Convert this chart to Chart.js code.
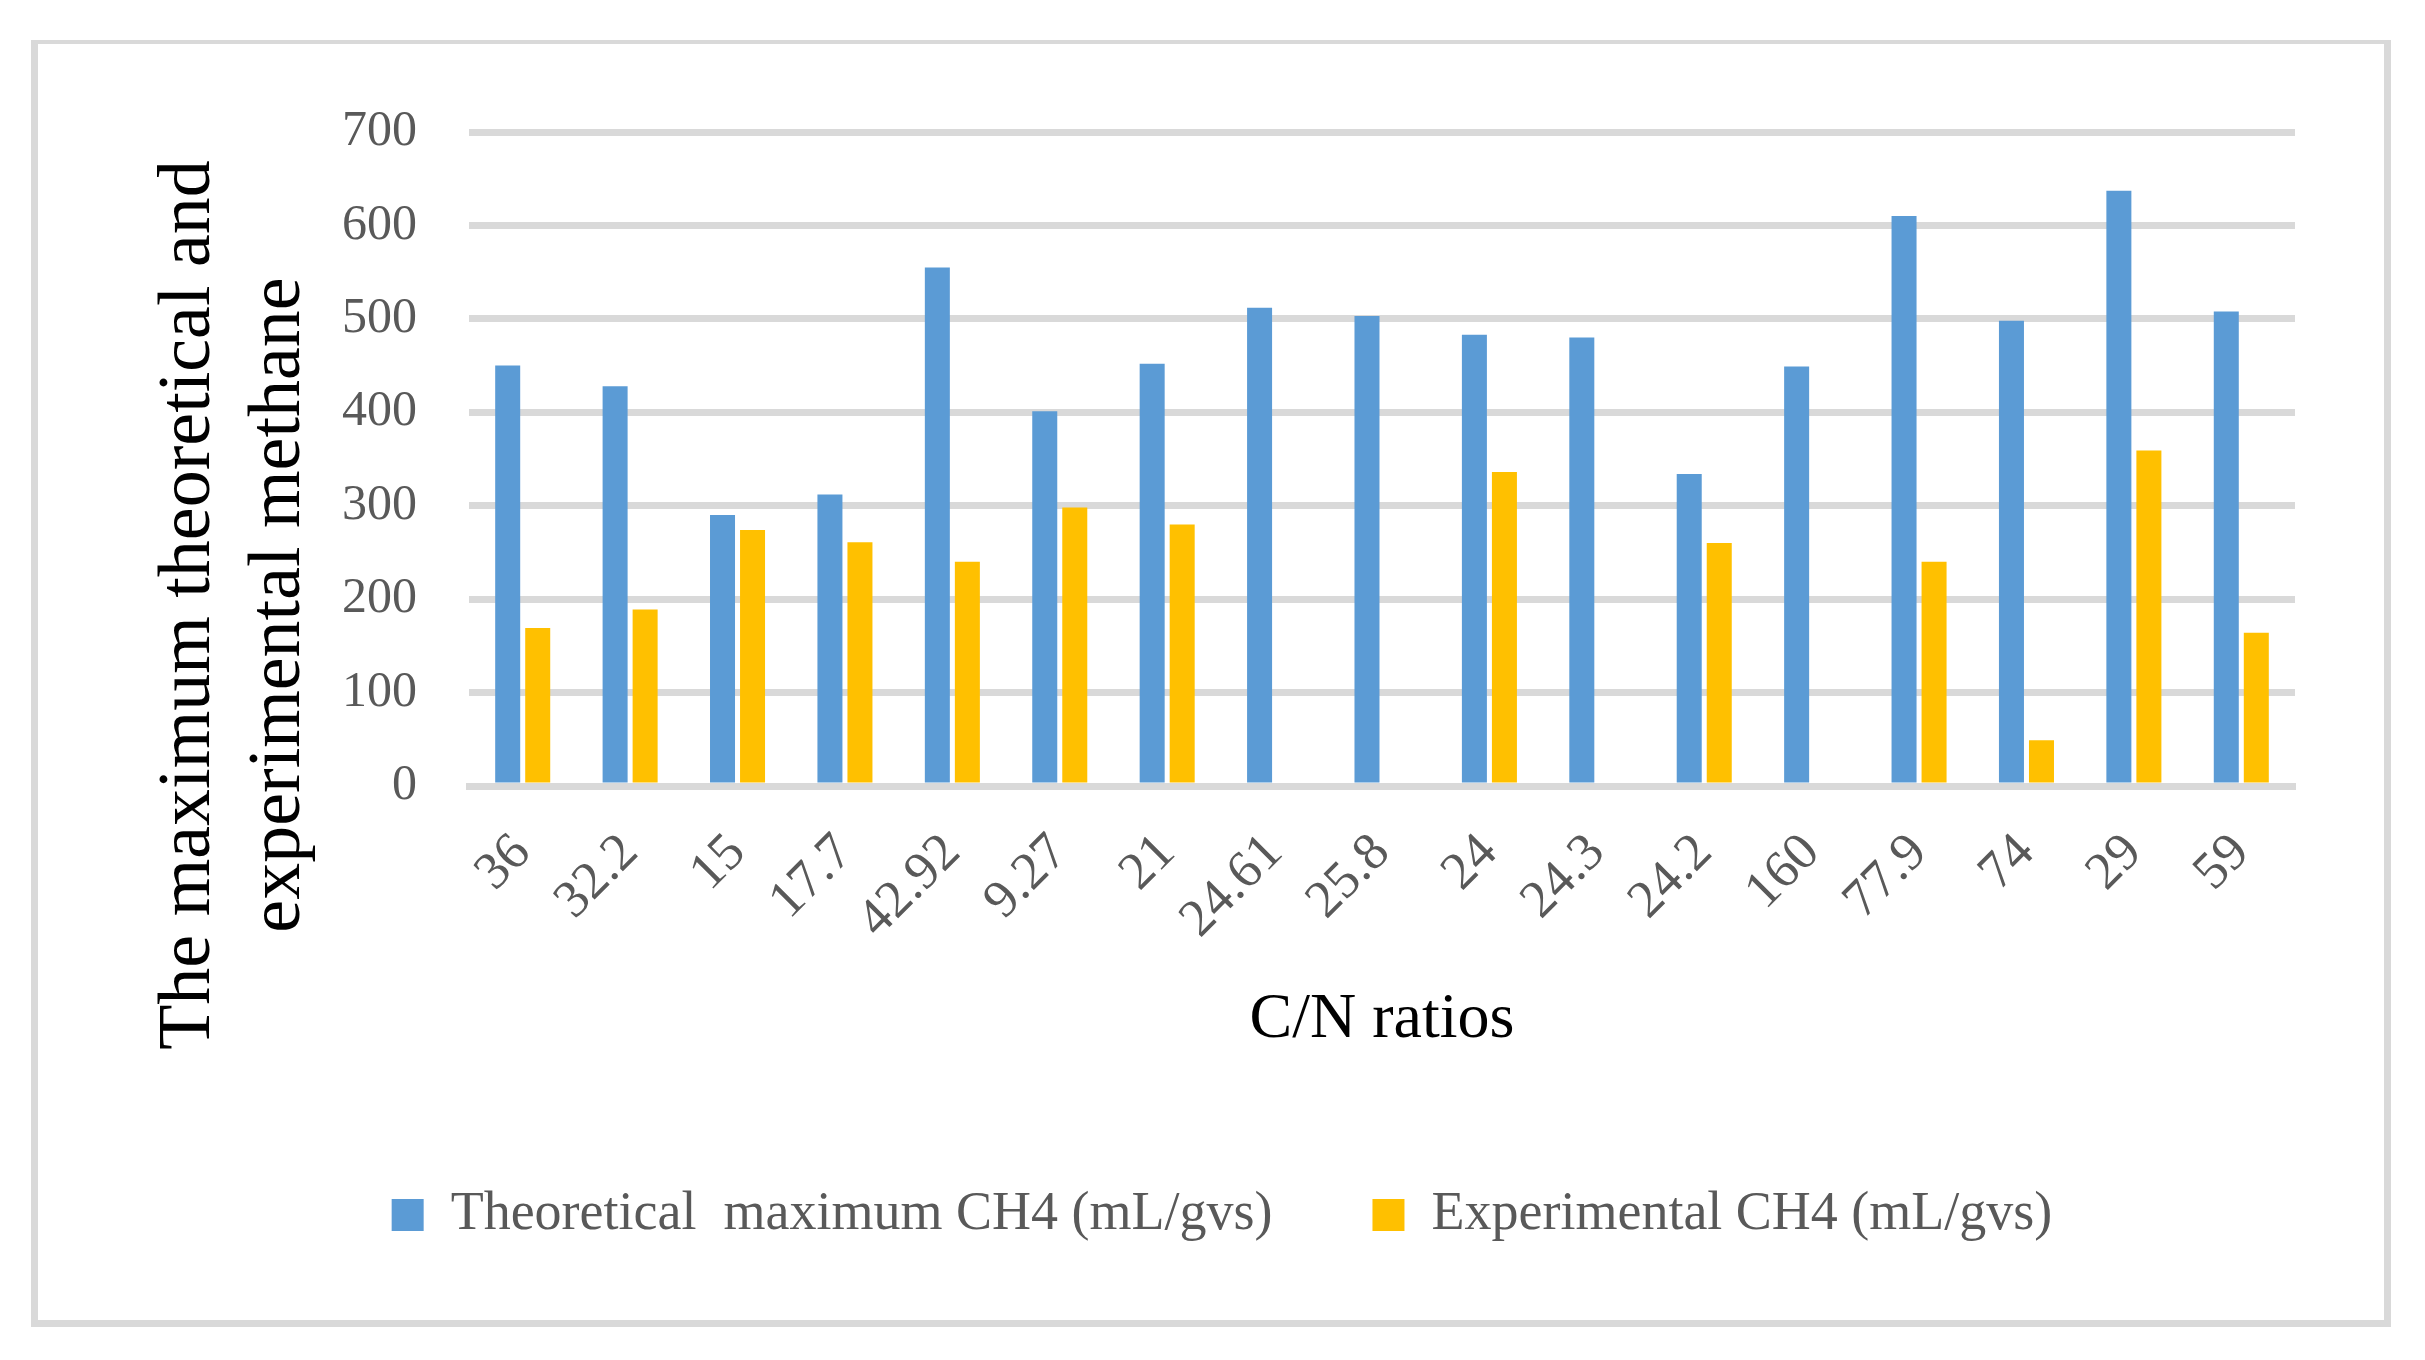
<!DOCTYPE html>
<html><head><meta charset="utf-8">
<script src="https://cdn.jsdelivr.net/npm/chart.js@4/dist/chart.umd.min.js"></script>
<style>
html,body{margin:0;padding:0;background:#fff;}
#frame{position:absolute;left:31px;top:40px;width:2360px;height:1287px;box-sizing:border-box;border:7px solid #d9d9d9;border-top-width:4px;}
#c{position:absolute;left:0;top:0;}
</style></head><body>
<div id="frame"></div>
<canvas id="c" width="2425" height="1360"></canvas>
<script>
const categories = ['36','32.2','15','17.7','42.92','9.27','21','24.61','25.8','24','24.3','24.2','160','77.9','74','29','59'];
const theoretical = [450,428,290,312,555,401,452,512,503,483,480,334,449,610,498,637,508];
const experimental = [169,189,274,261,240,298,280,null,null,336,null,260,null,240,49,359,164];
const yTicks = [0,100,200,300,400,500,600,700];
const seriesNames = ['Theoretical  maximum CH4 (mL/gvs)','Experimental CH4 (mL/gvs)'];
const xTitle = 'C/N ratios';
const yTitleLines = ['The maximum theoretical and','experimental methane'];

const FONT = 'Liberation Serif';

const yTitlePlugin = {
  id: 'yTitle',
  afterDraw(chart) {
    const ctx = chart.ctx;
    const s = chart.scales.y;
    ctx.save();
    ctx.font = '74px "' + FONT + '"';
    ctx.fillStyle = '#000';
    ctx.textAlign = 'center';
    ctx.textBaseline = 'middle';
    const cy = 605;
    yTitleLines.forEach((t, i) => {
      ctx.save();
      ctx.translate(s.left + 41 + i * 90, cy);
      ctx.rotate(-Math.PI / 2);
      ctx.fillText(t, 0, 0);
      ctx.restore();
    });
    ctx.restore();
  }
};

new Chart(document.getElementById('c'), {
  type: 'bar',
  data: {
    labels: categories,
    datasets: [
      {label: seriesNames[0], data: theoretical, backgroundColor: '#5B9BD5', categoryPercentage: 0.559, barPercentage: 0.833},
      {label: seriesNames[1], data: experimental, backgroundColor: '#FFC000', categoryPercentage: 0.559, barPercentage: 0.833}
    ]
  },
  plugins: [yTitlePlugin],
  options: {
    responsive: false,
    animation: false,
    devicePixelRatio: 1,
    layout: {padding: {left: 149, right: 130, top: 132, bottom: 108}},
    plugins: {
      legend: {
        position: 'bottom',
        labels: {boxWidth: 32, boxHeight: 32, padding: 100, color: '#595959', font: {family: FONT, size: 54}}
      },
      tooltip: {enabled: false}
    },
    scales: {
      x: {
        z: 1,
        grid: {display: false},
        border: {display: true, color: '#d9d9d9', width: 7},
        ticks: {color: '#595959', font: {family: FONT, size: 53}, minRotation: 45, maxRotation: 45, padding: 28, autoSkip: false},
        title: {display: true, text: xTitle, color: '#000', font: {family: FONT, size: 64}, padding: {top: 0, bottom: 29}},
        afterFit(s) { s.height = 302; }
      },
      y: {
        min: 0, max: 700,
        afterBuildTicks(s) { s.ticks = yTicks.map(v => ({value: v})); },
        ticks: {color: '#595959', font: {family: FONT, size: 50}, padding: 52},
        grid: {color: '#d9d9d9', lineWidth: 7, drawTicks: false},
        border: {display: false},
        afterFit(s) { s.width = 320; }
      }
    }
  }
});
</script>
</body></html>
